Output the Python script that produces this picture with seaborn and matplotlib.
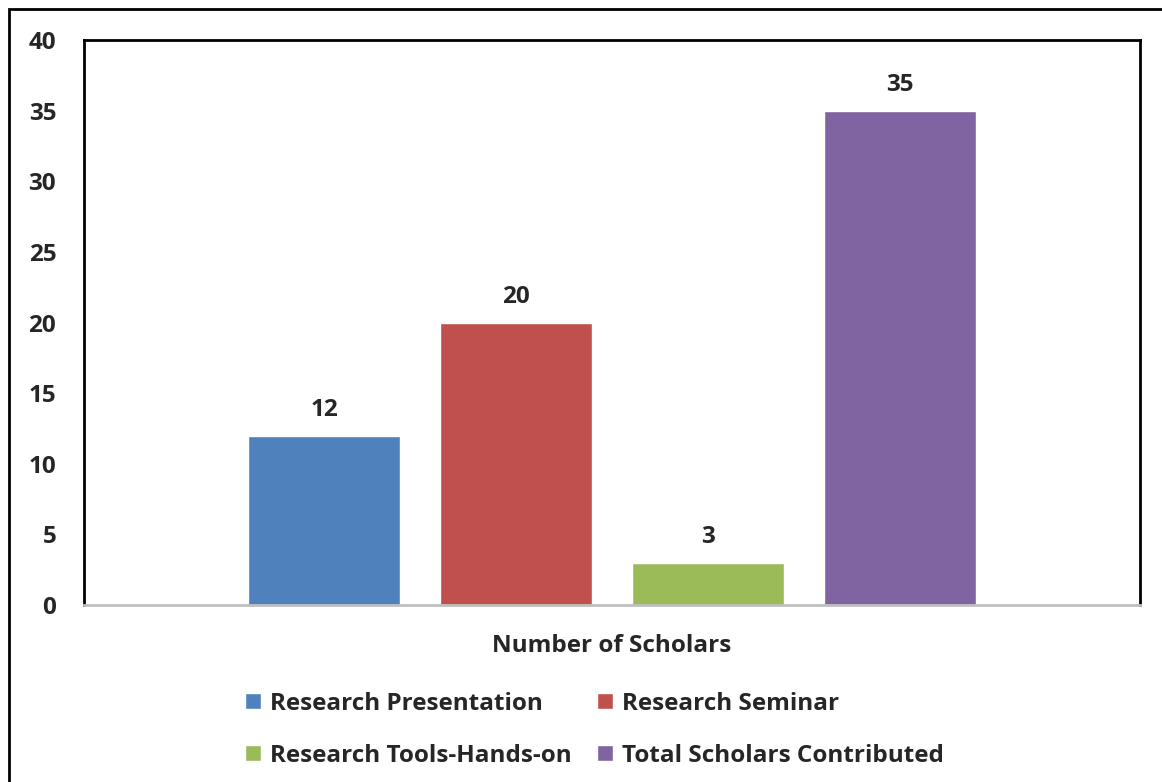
import pandas as pd
import seaborn as sns
import matplotlib.pyplot as plt
from matplotlib.patches import Rectangle

# Chart data
category = ['Number of Scholars']
series = ['Research Presentation', 'Research Seminar',
          'Research Tools-Hands-on', 'Total Scholars Contributed']
values = [12, 20, 3, 35]
colors = ['#4F81BD', '#C0504D', '#9BBB59', '#8064A2']
y_ticks = [0, 5, 10, 15, 20, 25, 30, 35, 40]

df = pd.DataFrame({'category': category * len(series), 'series': series, 'value': values})

sns.set_style('white')
plt.rcParams['font.family'] = ['Open Sans', 'DejaVu Sans']
plt.rcParams['font.weight'] = 'bold'
fs = 17.5

fig = plt.figure(figsize=(11.62, 7.82), dpi=100)
ax = fig.add_axes([84 / 1162, 1 - 605 / 782, 1056 / 1162, 565 / 782])

sns.barplot(data=df, x='category', y='value', hue='series', palette=colors,
            saturation=1, width=0.727, gap=0.21, ax=ax, legend=True)

# Value labels on top of bars
for c in ax.containers:
    ax.bar_label(c, padding=10, fontsize=fs, fontweight='bold')

ax.set_xlim(-0.5, 0.5)
ax.set_ylim(0, 40)
ax.set_yticks(y_ticks)
ax.set_yticklabels([str(t) for t in y_ticks], fontsize=fs, fontweight='bold')
ax.tick_params(axis='y', length=0, pad=20)
ax.tick_params(axis='x', length=0, labelbottom=False)
ax.set_xlabel('Number of Scholars', fontsize=fs, fontweight='bold', labelpad=21)
ax.set_ylabel('')

for side in ['left', 'top', 'right']:
    ax.spines[side].set_color('black')
    ax.spines[side].set_linewidth(2)
ax.spines['bottom'].set_color('#BFBFBF')
ax.spines['bottom'].set_linewidth(2)

# Legend below the plot, filled row by row like the reference
handles, labels = ax.get_legend_handles_labels()
order = [0, 2, 1, 3]
ax.legend([handles[i] for i in order], [labels[i] for i in order], ncol=2,
          loc='upper center', bbox_to_anchor=(0.4834, -0.1147), frameon=False,
          prop={'weight': 'bold', 'size': fs},
          handlelength=0.65, handleheight=0.65, handletextpad=0.37,
          columnspacing=1.07, labelspacing=1.15)

# Outer chart frame (cut off at right and bottom as in the reference)
fig.patches.append(Rectangle((9 / 1162, -0.05), 1.2, 1 - 9 / 782 + 0.05,
                             transform=fig.transFigure, fill=False,
                             edgecolor='black', linewidth=2))

plt.savefig('out.png', dpi=100)
